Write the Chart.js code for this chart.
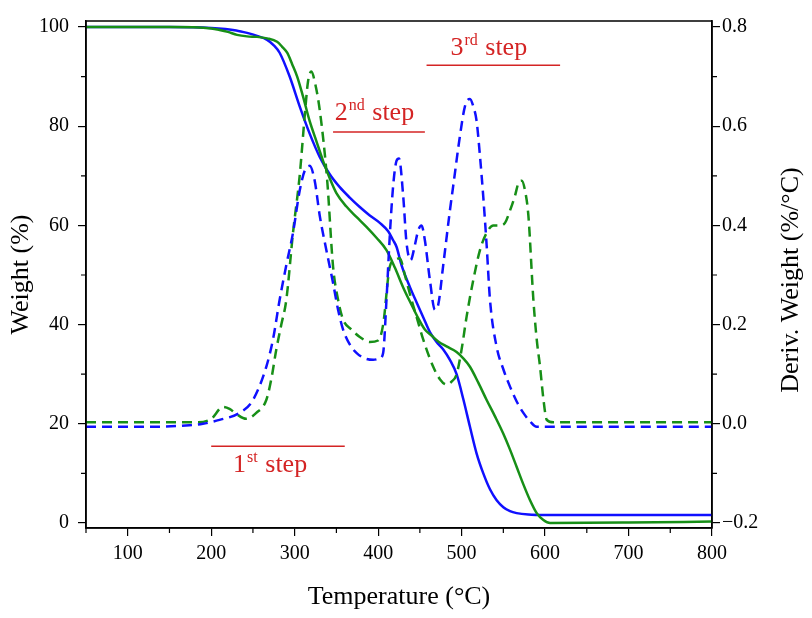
<!DOCTYPE html>
<html lang="en">
<head>
<meta charset="UTF-8">
<title>TGA / DTG</title>
<script src="https://cdn.jsdelivr.net/npm/chart.js"></script>
<style>
  body { margin: 0; background: #fff; }
  #wrap { width: 812px; height: 618px; }
</style>
</head>
<body>
<div id="wrap"><canvas id="tgaChart" width="812" height="618"></canvas></div>
<script>
// weight loss curves (left axis, %)
const blueTgaT = [50, 150, 200, 230, 243, 255, 267, 275, 282, 294, 306, 318, 330, 342, 354, 366, 378, 390, 402, 412, 418, 422, 428, 438, 446, 454, 462, 470, 478, 486, 494, 502, 510, 518, 526, 534, 542, 550, 558, 566, 580, 600, 800];
const blueTga  = [100, 100, 99.8, 99.3, 98.8, 98.2, 97.4, 96.3, 94.8, 90, 84, 78.5, 73.8, 70.3, 67.7, 65.6, 63.7, 62, 60.5, 58.8, 57, 55.7, 52, 47.6, 44.5, 41.5, 38.5, 36.5, 35, 32.9, 30, 25, 19.4, 14, 10, 6.8, 4.6, 3.2, 2.4, 2, 1.7, 1.6, 1.6];

const greenTgaT = [50, 150, 200, 210, 220, 231, 243, 255, 267, 279, 285, 291, 297, 303, 310, 318, 326, 334, 342, 350, 362, 374, 386, 398, 410, 420, 430, 440, 448, 456, 464, 472, 482, 494, 502, 510, 520, 530, 540, 550, 558, 566, 574, 582, 590, 598, 606, 700, 800];
const greenTga  = [100, 100, 99.7, 99.4, 99, 98.4, 98.1, 98, 97.7, 97, 96, 94.8, 92.5, 90, 86, 81, 77, 73, 69.5, 66.5, 63.8, 61.7, 59.7, 57.5, 55, 51.5, 47.5, 44, 41.3, 39, 37.8, 36.6, 35.6, 34.5, 33.2, 31.5, 28.3, 24.8, 21.5, 18, 14.8, 11.3, 7.8, 4.6, 2, 0.6, 0, 0.1, 0.3];

// derivative curves (right axis, %/°C)
const blueDtgT = [50, 120, 174, 190, 210, 234, 250, 266, 274, 282, 290, 298, 306, 312, 318, 324, 330, 338, 346, 352, 358, 366, 374, 384, 394, 402, 406, 410, 414, 418, 422, 425, 430, 434, 439, 444, 448, 452, 456, 462, 468, 472, 478, 486, 490, 498, 504, 510, 514, 518, 522, 526, 530, 534, 542, 550, 558, 566, 574, 582, 590, 800];
const blueDtg  = [-0.006, -0.006, -0.003, 0, 0.008, 0.022, 0.048, 0.115, 0.17, 0.25, 0.32, 0.385, 0.47, 0.51, 0.52, 0.49, 0.42, 0.35, 0.284, 0.23, 0.19, 0.16, 0.143, 0.132, 0.129, 0.132, 0.143, 0.25, 0.38, 0.48, 0.53, 0.535, 0.46, 0.365, 0.33, 0.36, 0.39, 0.40, 0.37, 0.29, 0.23, 0.24, 0.32, 0.43, 0.48, 0.58, 0.64, 0.655, 0.64, 0.61, 0.54, 0.457, 0.36, 0.25, 0.155, 0.11, 0.075, 0.045, 0.022, 0.005, -0.006, -0.006];

const greenDtgT = [50, 180, 200, 214, 222, 230, 242, 254, 266, 272, 278, 284, 290, 298, 306, 312, 316, 320, 324, 330, 339, 346, 352, 358, 368, 378, 390, 400, 406, 414, 420, 426, 432, 440, 446, 454, 466, 474, 482, 488, 494, 500, 506, 514, 522, 530, 538, 546, 552, 558, 564, 568, 572, 576, 580, 586, 590, 594, 598, 602, 610, 800];
const greenDtg  = [0.003, 0.003, 0.01, 0.034, 0.03, 0.02, 0.01, 0.022, 0.048, 0.09, 0.15, 0.2, 0.25, 0.385, 0.5, 0.62, 0.69, 0.71, 0.69, 0.633, 0.49, 0.317, 0.25, 0.21, 0.19, 0.175, 0.165, 0.168, 0.2, 0.317, 0.33, 0.334, 0.3, 0.25, 0.216, 0.17, 0.115, 0.09, 0.079, 0.085, 0.10, 0.15, 0.216, 0.29, 0.35, 0.385, 0.40, 0.40, 0.405, 0.43, 0.46, 0.485, 0.49, 0.47, 0.42, 0.25, 0.17, 0.115, 0.05, 0.008, 0.003, 0.003];

// tick values
const xTicks = [100, 200, 300, 400, 500, 600, 700, 800];
const xMinor = [50, 150, 250, 350, 450, 550, 650, 750];
const yTicks = [0, 20, 40, 60, 80, 100];
const yMinor = [10, 30, 50, 70, 90];
const y2Ticks = [-0.2, 0, 0.2, 0.4, 0.6, 0.8];
const y2Minor = [-0.1, 0.1, 0.3, 0.5, 0.7];

// step annotations (temperature / weight coordinates)
const stepLabels = [['1', 'st', ' step'], ['2', 'nd', ' step'], ['3', 'rd', ' step']];
const stepLineStart = [200, 346, 458];
const stepLineEnd = [360, 456, 618];
const stepLineY = [15.5, 78.8, 92.3];
const stepTextX = [270, 395, 532];
const stepTextY = [10.2, 81.2, 94.3];

const serif = '"Liberation Serif", "Times New Roman", serif';
const BLUE = '#1010ff';
const GREEN = '#178f17';
const RED = '#d42424';

function pts(t, v) {
  return t.map((x, i) => ({ x: x, y: v[i] }));
}

const fixedTicks = vals => scale => { scale.ticks = vals.map(v => ({ value: v })); };

const decor = {
  id: 'decor',
  afterDraw(chart) {
    const ctx = chart.ctx;
    const a = chart.chartArea;
    const sx = chart.scales.x, sy = chart.scales.y, sy2 = chart.scales.y2;
    ctx.save();
    // frame
    ctx.strokeStyle = '#000';
    ctx.lineWidth = 1.5;
    ctx.strokeRect(a.left, a.top, a.right - a.left, a.bottom - a.top);
    // minor ticks
    ctx.lineWidth = 1.2;
    ctx.beginPath();
    xMinor.forEach(v => {
      const px = sx.getPixelForValue(v);
      ctx.moveTo(px, a.bottom); ctx.lineTo(px, a.bottom + 5);
    });
    yMinor.forEach(v => {
      const py = sy.getPixelForValue(v);
      ctx.moveTo(a.left, py); ctx.lineTo(a.left - 5, py);
    });
    y2Minor.forEach(v => {
      const py = sy2.getPixelForValue(v);
      ctx.moveTo(a.right, py); ctx.lineTo(a.right + 5, py);
    });
    ctx.stroke();

    // step markers
    ctx.strokeStyle = RED;
    ctx.fillStyle = RED;
    ctx.lineWidth = 1.5;
    stepLabels.forEach((parts, i) => {
      const y = sy.getPixelForValue(stepLineY[i]);
      ctx.beginPath();
      ctx.moveTo(sx.getPixelForValue(stepLineStart[i]), y);
      ctx.lineTo(sx.getPixelForValue(stepLineEnd[i]), y);
      ctx.stroke();

      const big = '26px ' + serif, small = '16px ' + serif;
      ctx.font = big; const w1 = ctx.measureText(parts[0]).width;
      const w3 = ctx.measureText(parts[2]).width;
      ctx.font = small; const w2 = ctx.measureText(parts[1]).width + 1;
      let x = sx.getPixelForValue(stepTextX[i]) - (w1 + w2 + w3) / 2;
      const base = sy.getPixelForValue(stepTextY[i]);
      ctx.textBaseline = 'alphabetic';
      ctx.textAlign = 'left';
      ctx.font = big; ctx.fillText(parts[0], x, base); x += w1 + 1;
      ctx.font = small; ctx.fillText(parts[1], x, base - 10); x += w2;
      ctx.font = big; ctx.fillText(parts[2], x, base);
    });

    // right axis title (reads upwards like the left one)
    ctx.fillStyle = '#000';
    ctx.font = '26px ' + serif;
    ctx.textAlign = 'center';
    ctx.textBaseline = 'middle';
    ctx.translate(791, 280);
    ctx.rotate(-Math.PI / 2);
    ctx.fillText('Deriv. Weight (%/°C)', 0, 0);
    ctx.restore();
  }
};

const axisBase = {
  grid: { drawOnChartArea: false, drawTicks: true, tickLength: 8, color: '#000', lineWidth: 1.2 },
  border: { display: true, color: '#000', width: 1.5 },
  ticks: { color: '#000', font: { family: serif, size: 20 } }
};

new Chart(document.getElementById('tgaChart'), {
  type: 'line',
  data: {
    datasets: [
      { data: pts(blueDtgT, blueDtg), yAxisID: 'y2', borderColor: BLUE, borderWidth: 2.5, borderDash: [10, 6] },
      { data: pts(greenDtgT, greenDtg), yAxisID: 'y2', borderColor: GREEN, borderWidth: 2.5, borderDash: [10, 6] },
      { data: pts(greenTgaT, greenTga), yAxisID: 'y', borderColor: GREEN, borderWidth: 2.5 },
      { data: pts(blueTgaT, blueTga), yAxisID: 'y', borderColor: BLUE, borderWidth: 2.5 }
    ]
  },
  options: {
    responsive: false,
    animation: false,
    parsing: false,
    layout: { padding: { top: 21, left: 0, right: 0, bottom: 0 } },
    elements: {
      point: { radius: 0 },
      line: { cubicInterpolationMode: 'monotone', fill: false }
    },
    plugins: { legend: { display: false }, tooltip: { enabled: false } },
    scales: {
      x: {
        type: 'linear', min: 50, max: 800,
        afterBuildTicks: fixedTicks(xTicks),
        afterFit: s => { s.height = 90; },
        grid: axisBase.grid, border: axisBase.border,
        ticks: { ...axisBase.ticks, padding: 6 },
        title: { display: true, text: 'Temperature (°C)', color: '#000', font: { family: serif, size: 26 }, padding: { top: 0, bottom: 5 } }
      },
      y: {
        type: 'linear', position: 'left', min: -1, max: 101.2,
        afterBuildTicks: fixedTicks(yTicks),
        afterFit: s => { s.width = 86; },
        grid: axisBase.grid, border: axisBase.border,
        ticks: { ...axisBase.ticks, padding: 9 },
        title: { display: true, text: 'Weight (%)', color: '#000', font: { family: serif, size: 26 }, padding: { top: 6, bottom: 0 } }
      },
      y2: {
        type: 'linear', position: 'right', min: -0.21, max: 0.812,
        afterBuildTicks: fixedTicks(y2Ticks),
        afterFit: s => { s.width = 100; },
        grid: axisBase.grid, border: axisBase.border,
        ticks: { ...axisBase.ticks, padding: 2, callback: v => v < 0 ? '\u22120.2' : v.toFixed(1) }
      }
    }
  },
  plugins: [decor]
});
</script>
</body>
</html>
